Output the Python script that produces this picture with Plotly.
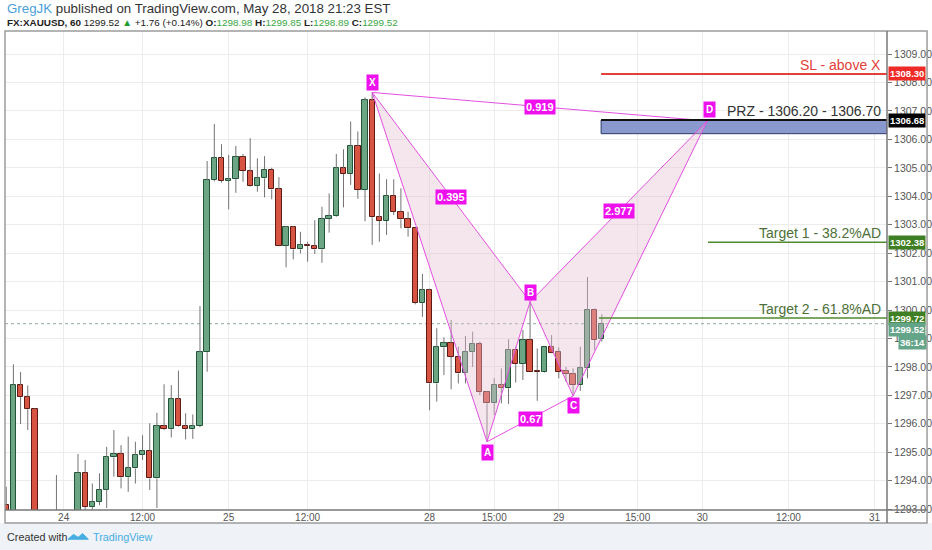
import plotly.graph_objects as go

# ---------------- data ----------------
bar_index = list(range(84))
opens = [1293.14, 1292.80, 1297.35, 1296.95, 1296.51, 1292.60, 1292.30, 1292.50, 1292.70, 1292.60,
         1292.85, 1294.28, 1293.08, 1293.26, 1293.69, 1294.82, 1294.94, 1294.12, 1294.43, 1294.90,
         1295.05, 1294.08, 1295.92, 1295.81, 1296.86, 1295.92, 1295.81, 1295.92, 1298.52, 1304.57,
         1305.33, 1304.55, 1304.60, 1305.39, 1304.89, 1304.37, 1304.63, 1304.94, 1304.24, 1302.26,
         1302.91, 1302.13, 1302.29, 1302.25, 1302.13, 1303.20, 1303.31, 1304.98, 1304.78, 1305.77,
         1304.22, 1307.38, 1303.26, 1303.13, 1304.02, 1303.46, 1303.19, 1302.87, 1300.26, 1300.70,
         1297.42, 1298.69, 1298.83, 1298.36, 1297.77, 1298.54, 1298.81, 1297.13, 1296.72, 1297.36,
         1297.25, 1298.59, 1298.10, 1298.95, 1297.87, 1297.82, 1298.69, 1298.54, 1297.85, 1297.75,
         1297.36, 1297.95, 1300.00, 1298.98]
highs = [1293.79, 1298.09, 1297.82, 1297.35, 1296.55, 1292.90, 1292.80, 1294.20, 1292.95, 1292.90,
         1294.94, 1294.73, 1293.90, 1294.26, 1295.19, 1295.78, 1295.25, 1295.55, 1295.37, 1295.60,
         1296.02, 1296.39, 1297.39, 1297.36, 1297.87, 1296.37, 1296.33, 1300.14, 1305.24, 1306.54,
         1305.83, 1305.45, 1305.77, 1305.49, 1306.04, 1305.33, 1305.41, 1305.00, 1304.67, 1302.95,
         1302.95, 1302.75, 1302.40, 1303.16, 1303.63, 1304.10, 1305.49, 1305.65, 1306.63, 1306.28,
         1307.48, 1307.65, 1304.80, 1304.60, 1304.60, 1304.28, 1303.46, 1302.90, 1301.27, 1300.75,
         1299.36, 1299.04, 1299.65, 1298.71, 1299.09, 1299.24, 1298.89, 1297.15, 1297.60, 1297.95,
         1298.97, 1298.71, 1299.30, 1300.29, 1298.65, 1298.71, 1299.12, 1298.69, 1298.00, 1297.95,
         1298.71, 1301.16, 1300.06, 1299.85]
lows = [1292.70, 1292.60, 1295.99, 1295.78, 1292.40, 1292.00, 1291.90, 1292.20, 1292.30, 1292.20,
        1292.60, 1292.90, 1292.98, 1293.14, 1293.04, 1294.14, 1293.73, 1293.61, 1293.90, 1294.73,
        1293.67, 1293.04, 1295.78, 1295.52, 1295.90, 1295.45, 1295.47, 1295.88, 1297.83, 1304.52,
        1304.48, 1303.54, 1304.12, 1304.51, 1304.34, 1304.16, 1303.96, 1303.89, 1302.24, 1301.50,
        1301.78, 1301.99, 1301.70, 1301.97, 1301.66, 1302.72, 1303.28, 1303.61, 1304.40, 1303.91,
        1303.12, 1302.29, 1302.40, 1302.64, 1303.34, 1302.87, 1302.58, 1300.20, 1299.76, 1296.48,
        1296.78, 1297.71, 1297.21, 1297.42, 1297.42, 1298.00, 1297.01, 1295.37, 1296.31, 1296.72,
        1296.70, 1297.45, 1297.54, 1297.83, 1296.81, 1297.80, 1298.48, 1297.60, 1297.48, 1296.98,
        1297.16, 1297.60, 1298.59, 1298.89]
closes = [1292.95, 1297.35, 1296.95, 1296.51, 1292.60, 1292.30, 1292.50, 1292.70, 1292.60, 1292.85,
          1294.28, 1293.08, 1293.26, 1293.69, 1294.82, 1294.94, 1294.12, 1294.43, 1294.90, 1295.05,
          1294.08, 1295.92, 1295.81, 1296.86, 1295.92, 1295.81, 1295.92, 1298.52, 1304.57, 1305.33,
          1304.55, 1304.60, 1305.39, 1304.89, 1304.37, 1304.63, 1304.94, 1304.24, 1302.26, 1302.91,
          1302.13, 1302.29, 1302.25, 1302.13, 1303.20, 1303.31, 1304.98, 1304.78, 1305.77, 1304.22,
          1307.38, 1303.26, 1303.13, 1304.02, 1303.46, 1303.19, 1302.87, 1300.26, 1300.70, 1297.42,
          1298.69, 1298.83, 1298.36, 1297.77, 1298.54, 1298.81, 1297.13, 1296.72, 1297.36, 1297.25,
          1298.59, 1298.10, 1298.95, 1297.83, 1297.82, 1298.69, 1298.50, 1297.83, 1297.75, 1297.36,
          1297.95, 1300.00, 1298.95, 1299.52]

tick_positions = [8, 19, 31, 42, 59, 68, 77, 88, 97, 109, 121]
tick_labels = ["24", "12:00", "25", "12:00", "28", "15:00", "29", "15:00", "30", "12:00", "31"]

pattern_names = ["X", "A", "B", "C", "D"]
pattern_x = [51, 67, 73, 79, 97.7]
pattern_y = [1307.65, 1295.37, 1300.29, 1296.98, 1306.65]
ratio_from = [0, 2, 0, 1]
ratio_to = [2, 4, 4, 3]
ratio_text = ["0.395", "2.977", "0.919", "0.67"]

sl_price, sl_start = 1308.30, 82.9
prz_low, prz_high, prz_start = 1306.20, 1306.68, 82.9
t1_price, t1_start = 1302.38, 97.8
t2_price, t2_start = 1299.72, 82.6
last_price = 1299.52

x_range = [-0.17, 122.74]
y_range = [1292.97, 1309.81]

# ---------------- styling ----------------
UP, UP_LINE = "#6ba583", "#225437"
DN, DN_LINE = "#d75442", "#5b1a13"
WICK = "#737375"
PAT = "#e34fe0"
PATBOX = "#ee11ee"
FONT = "Liberation Sans, Arial, sans-serif"

fig = go.Figure()

body_base = [min(o, c) for o, c in zip(opens, closes)]
body_h = [max(abs(c - o), 0.03) for o, c in zip(opens, closes)]
is_up = [c >= o for o, c in zip(opens, closes)]
fig.add_trace(go.Bar(
    x=bar_index, y=body_h, base=body_base, width=0.74,
    marker=dict(color=[UP if u else DN for u in is_up],
                line=dict(color=[UP_LINE if u else DN_LINE for u in is_up], width=1)),
    hoverinfo="skip", showlegend=False))

wx, wy = [], []
for i, o, h, l, c in zip(bar_index, opens, highs, lows, closes):
    top, bot = max(o, c), min(o, c)
    wx += [i, i, None, i, i, None]
    wy += [top, h, None, bot, l, None]
fig.add_trace(go.Scatter(x=wx, y=wy, mode="lines", line=dict(color=WICK, width=1),
                         hoverinfo="skip", showlegend=False))

# pattern fills (XAB, BCD)
for tri in ([0, 1, 2, 0], [2, 3, 4, 2]):
    fig.add_trace(go.Scatter(x=[pattern_x[j] for j in tri], y=[pattern_y[j] for j in tri],
                             mode="lines", fill="toself", fillcolor="rgba(230,192,212,0.40)",
                             line=dict(width=0), hoverinfo="skip", showlegend=False))

# pattern lines
segs = [(0, 1), (1, 2), (2, 3), (3, 4)] + list(zip(ratio_from, ratio_to))
lx, ly = [], []
for a, b in segs:
    lx += [pattern_x[a], pattern_x[b], None]
    ly += [pattern_y[a], pattern_y[b], None]
fig.add_trace(go.Scatter(x=lx, y=ly, mode="lines", line=dict(color=PAT, width=1),
                         hoverinfo="skip", showlegend=False))

shapes = []
annotations = []

# footer background
shapes.append(dict(type="rect", xref="paper", yref="paper", x0=-0.01, x1=1.06,
                   y0=-0.0835, y1=-0.0271, fillcolor="#eff2f6", line=dict(width=0), layer="below"))

# last price dotted line
shapes.append(dict(type="line", xref="x", yref="y", x0=x_range[0], x1=x_range[1],
                   y0=last_price, y1=last_price, line=dict(color="#8fa89a", width=1, dash="dot"),
                   layer="between"))

# PRZ rectangle
shapes.append(dict(type="rect", xref="x", yref="y", x0=prz_start, x1=x_range[1],
                   y0=prz_low, y1=prz_high, fillcolor="rgb(137,152,205)",
                   line=dict(color="#2b3a6b", width=1), layer="between"))
shapes.append(dict(type="line", xref="x", yref="y", x0=prz_start, x1=x_range[1],
                   y0=prz_high, y1=prz_high, line=dict(color="#111111", width=2)))
# SL
shapes.append(dict(type="line", xref="x", yref="y", x0=sl_start, x1=x_range[1],
                   y0=sl_price, y1=sl_price, line=dict(color="#e3403a", width=2)))
# Targets
shapes.append(dict(type="line", xref="x", yref="y", x0=t1_start, x1=x_range[1],
                   y0=t1_price, y1=t1_price, line=dict(color="#4f8a2e", width=1.5)))
shapes.append(dict(type="line", xref="x", yref="y", x0=t2_start, x1=x_range[1],
                   y0=t2_price, y1=t2_price, line=dict(color="#4f8a2e", width=1.5)))

# frame
shapes.append(dict(type="rect", xref="paper", yref="paper", x0=0, x1=1.0454, y0=-0.0271, y1=1,
                   line=dict(color="#9c9c9c", width=1.5)))
shapes.append(dict(type="line", xref="paper", yref="paper", x0=1, x1=1, y0=-0.0271, y1=1,
                   line=dict(color="#777777", width=1.5)))
shapes.append(dict(type="line", xref="paper", yref="paper", x0=0, x1=1.0454, y0=0, y1=0,
                   line=dict(color="#777777", width=1.5)))

# level texts
def level_text(txt, price, color):
    annotations.append(dict(x=0.9955, xref="paper", y=price, yref="y", text=txt, showarrow=False,
                            xanchor="right", yanchor="bottom", yshift=-1,
                            font=dict(family=FONT, size=14, color=color)))

level_text("SL - above X", sl_price, "#e3403a")
level_text("PRZ - 1306.20 - 1306.70", prz_high, "#333333")
level_text("Target 1 - 38.2%AD", t1_price, "#4c7038")
level_text("Target 2 - 61.8%AD", t2_price, "#4c7038")

# price axis boxes
def axis_box(txt, price, bg, yshift=0):
    annotations.append(dict(x=1, xref="paper", y=price, yref="y", text="<b>%s</b>" % txt,
                            showarrow=False, xanchor="left", xshift=1, yshift=yshift,
                            bgcolor=bg, borderpad=1,
                            font=dict(family=FONT, size=9.5, color="white")))

axis_box("%.2f" % sl_price, sl_price, "#ee2b27")
axis_box("%.2f" % prz_high, prz_high, "#000000")
axis_box("%.2f" % t1_price, t1_price, "#3f7f24")
axis_box("%.2f" % t2_price, t2_price, "#3f7f24")
axis_box("%.2f" % last_price, last_price, "#64a488", yshift=-6)
annotations.append(dict(x=1.0454, xref="paper", y=last_price, yref="y", text="<b>36:14</b>",
                        showarrow=False, xanchor="right", yshift=-19, bgcolor="#64a488", borderpad=1,
                        font=dict(family=FONT, size=9.5, color="white")))

# pattern point labels
point_shift = [10, -11, 9, -10, 11]
for name, px_, py_, ys in zip(pattern_names, pattern_x, pattern_y, point_shift):
    annotations.append(dict(x=px_, y=py_, xref="x", yref="y", text="<b>%s</b>" % name,
                            showarrow=False, yshift=ys, xshift=2 if name == "D" else 0,
                            bgcolor=PATBOX, borderpad=2,
                            font=dict(family=FONT, size=10, color="white")))
# ratio labels
for a, b, t in zip(ratio_from, ratio_to, ratio_text):
    annotations.append(dict(x=(pattern_x[a] + pattern_x[b]) / 2, y=(pattern_y[a] + pattern_y[b]) / 2,
                            xref="x", yref="y", text="<b>%s</b>" % t, showarrow=False,
                            bgcolor=PATBOX, borderpad=1,
                            font=dict(family=FONT, size=11, color="white")))

# header
GREEN = "#3aa844"
annotations.append(dict(x=0, y=1.046, xref="paper", yref="paper", xanchor="left", yanchor="middle",
                        showarrow=False,
                        text="<span style='color:#4a9fd8'>GregJK</span> published on TradingView.com, May 28, 2018 21:23 EST",
                        font=dict(family=FONT, size=13.3, color="#333333")))
hdr = ("<b>FX:XAUUSD, 60</b> %.2f <span style='color:#1e9e2e'>▲</span> +1.76 (+0.14%%) "
       "<b>O:</b><span style='color:%s'>%.2f</span> <b>H:</b><span style='color:%s'>%.2f</span> "
       "<b>L:</b><span style='color:%s'>%.2f</span> <b>C:</b><span style='color:%s'>%.2f</span>") % (
    closes[-1], GREEN, opens[-1], GREEN, highs[-1], GREEN, lows[-1], GREEN, closes[-1])
annotations.append(dict(x=0, y=1.0175, xref="paper", yref="paper", xanchor="left", yanchor="middle",
                        showarrow=False, text=hdr, font=dict(family=FONT, size=9.9, color="#222222")))

# footer
annotations.append(dict(x=0, y=-0.056, xref="paper", yref="paper", xanchor="left", yanchor="middle",
                        showarrow=False, text="Created with",
                        font=dict(family=FONT, size=10.8, color="#333333")))
annotations.append(dict(x=0.0975, y=-0.056, xref="paper", yref="paper", xanchor="left", yanchor="middle",
                        showarrow=False, text="TradingView",
                        font=dict(family=FONT, size=10.8, color="#47aee3")))
shapes.append(dict(type="path", xref="paper", yref="paper",
                   path="M 0.0715 -0.0610 L 0.0775 -0.0510 L 0.0830 -0.0570 L 0.0880 -0.0490 L 0.0945 -0.0610 Z",
                   fillcolor="#47aee3", line=dict(color="#47aee3", width=1)))

fig.update_layout(
    width=932, height=550, autosize=False,
    margin=dict(l=5, r=45, t=31, b=40),
    paper_bgcolor="white", plot_bgcolor="white",
    showlegend=False, bargap=0,
    font=dict(family=FONT, size=11, color="#555555"),
    xaxis=dict(range=x_range, tickmode="array", tickvals=tick_positions, ticktext=tick_labels,
               showgrid=True, gridcolor="#ececec", gridwidth=1, zeroline=False,
               ticks="", showline=False,
               tickfont=dict(family=FONT, size=10, color="#555555"), fixedrange=True),
    yaxis=dict(range=y_range, side="right", dtick=1, tick0=1300, tickformat=".2f",
               showgrid=True, gridcolor="#ececec", gridwidth=1, zeroline=False,
               ticks="outside", ticklen=4, tickcolor="#777777", showline=False,
               automargin=False,
               tickfont=dict(family=FONT, size=10.5, color="#555555"), fixedrange=True),
    shapes=shapes, annotations=annotations,
)

fig.write_html("out.html", config={"displayModeBar": False},
               post_script="document.body.style.margin='0';document.body.style.padding='0';document.body.style.overflow='hidden';")
